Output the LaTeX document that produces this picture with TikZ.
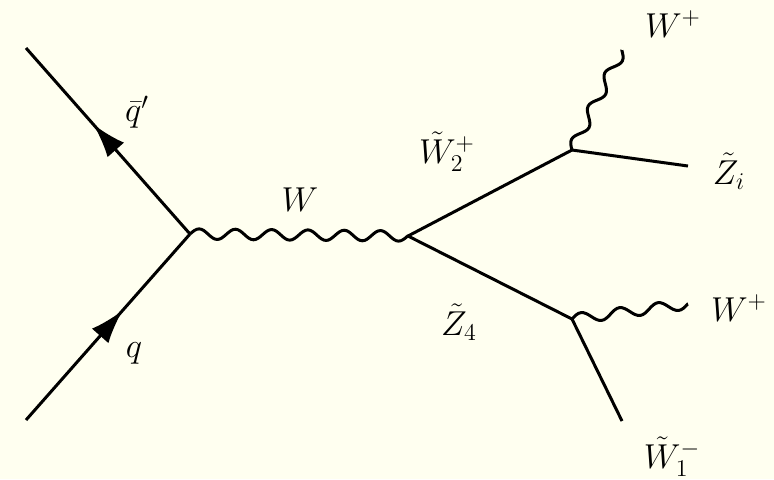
\documentclass[tikz,border=0pt]{standalone}
\usetikzlibrary{decorations,decorations.markings,arrows.meta}
\definecolor{bgcol}{RGB}{255,255,240}
\pgfdeclaredecoration{wavy}{up}{
  \state{up}[width=\pgfdecorationsegmentlength, next state=down]{
    \pgfpathcurveto{\pgfpoint{0.16307\pgfdecorationsegmentlength}{0.51229\pgfdecorationsegmentamplitude}}{\pgfpoint{0.31905\pgfdecorationsegmentlength}{\pgfdecorationsegmentamplitude}}{\pgfpoint{0.5\pgfdecorationsegmentlength}{\pgfdecorationsegmentamplitude}}
    \pgfpathcurveto{\pgfpoint{0.68095\pgfdecorationsegmentlength}{\pgfdecorationsegmentamplitude}}{\pgfpoint{0.83693\pgfdecorationsegmentlength}{0.51229\pgfdecorationsegmentamplitude}}{\pgfpoint{\pgfdecorationsegmentlength}{0pt}}
  }
  \state{down}[width=\pgfdecorationsegmentlength, next state=up]{
    \pgfpathcurveto{\pgfpoint{0.16307\pgfdecorationsegmentlength}{-0.51229\pgfdecorationsegmentamplitude}}{\pgfpoint{0.31905\pgfdecorationsegmentlength}{-\pgfdecorationsegmentamplitude}}{\pgfpoint{0.5\pgfdecorationsegmentlength}{-\pgfdecorationsegmentamplitude}}
    \pgfpathcurveto{\pgfpoint{0.68095\pgfdecorationsegmentlength}{-\pgfdecorationsegmentamplitude}}{\pgfpoint{0.83693\pgfdecorationsegmentlength}{-0.51229\pgfdecorationsegmentamplitude}}{\pgfpoint{\pgfdecorationsegmentlength}{0pt}}
  }
  \state{final}{\pgfpathlineto{\pgfpointdecoratedpathlast}}
}
\begin{document}
\begin{tikzpicture}[x=0.5pt,y=-0.5pt, line width=1.5pt,
  lbl/.style={font=\fontsize{17}{20}\selectfont, inner sep=0pt},
  fermion/.style={postaction={decorate},
    decoration={markings, mark=at position 0.59 with {\arrow{Latex[length=17pt,width=11pt]}}}},
  boson/.style={decorate, decoration={wavy, amplitude=2.6pt, segment length=#1}}]
\fill[bgcol] (0,0) rectangle (774,479);
\useasboundingbox (0,0) rectangle (774,479);
\coordinate (qend) at (26,420);
\coordinate (qpend) at (26,48);
\coordinate (v1) at (190,234);
\coordinate (v2) at (408,236);
\coordinate (v3) at (572,150);
\coordinate (v4) at (572,319);
\coordinate (zi) at (688,166);
\coordinate (wt) at (622,50);
\coordinate (wr) at (688,304);
\coordinate (w1) at (622,421);
\draw[fermion] (qend) -- (v1);
\draw[fermion] (v1) -- (qpend);
\draw[boson=9.07pt] (v1) -- (v2);
\draw (v2) -- (v3);
\draw (v2) -- (v4);
\draw (v3) -- (zi);
\draw[boson=9.29pt] (v3) -- (wt);
\draw[boson=9.72pt] (v4) -- (wr);
\draw (v4) -- (w1);
\node[lbl] (lqp) at (137,112) {$\bar{q}'$};
\node[lbl] (lq) at (134,353) {$q$};
\node[lbl] (lw) at (300,200) {$W$};
\node[lbl] (lw2) at (447,152) {$\tilde{W}_2^+$};
\node[lbl] (lwt) at (673,24) {$W^+$};
\node[lbl] (lzi) at (729,171) {$\tilde{Z}_i$};
\node[lbl] (lz4) at (459,322) {$\tilde{Z}_4$};
\node[lbl] (lwr) at (739,308) {$W^+$};
\node[lbl] (lw1) at (672,457) {$\tilde{W}_1^-$};
\end{tikzpicture}
\end{document}
